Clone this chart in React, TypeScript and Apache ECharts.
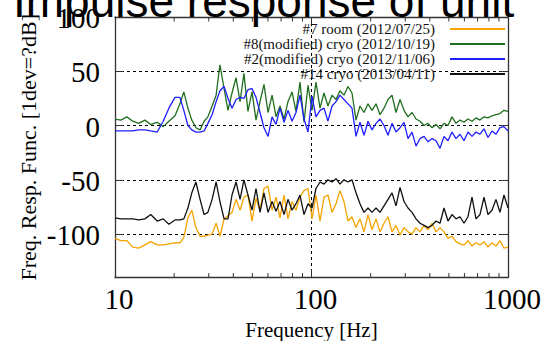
import React, { useEffect, useRef } from "react";
import * as echarts from "echarts";

const TITLE = "Impulse response of unit";
const X_NAME = "Frequency [Hz]";
const Y_NAME = "Freq. Resp. Func. [1dev=?dB]";
const SERIES_NAMES = [
  "#7 room (2012/07/25)",
  "#8(modified) cryo (2012/10/19)",
  "#2(modified) cryo (2012/11/06)",
  "#14 cryo (2013/04/11)",
];
const SERIES_COLORS = ["#f5a300", "#1f6f1f", "#1f1fff", "#111111"];
const X_MAJOR_TICKS = [10, 100, 1000];
const X_MINOR_TICKS = [20, 30, 40, 50, 60, 70, 80, 90, 200, 300, 400, 500, 600, 700, 800, 900];
const Y_TICKS = [100, 50, 0, -50, -100];

const FREQ = [
  10, 10.7, 11.5, 12.3, 13.2, 14.2, 15.2, 16.4, 17.6, 18.8,
  20.2, 21.4, 22.4, 23.5, 24.6, 25.8, 27.1, 28.4, 29.7, 31.2,
  32.7, 34.2, 35.9, 37.6, 39.4, 41.3, 43.3, 45.3, 47.5, 49.8,
  52.2, 54.7, 57.3, 60.1, 63.0, 66.0, 69.1, 72.5, 75.9, 79.6,
  83.4, 87.4, 91.6, 96.0, 100.6, 105.4, 110.5, 115.8, 121.3, 127.2,
  133.3, 139.6, 146.3, 153.4, 160.7, 168.5, 176.5, 185.0, 193.9, 203.2,
  213.0, 223.2, 233.9, 245.1, 256.9, 269.2, 282.2, 295.7, 309.9, 324.8,
  340.3, 356.7, 373.7, 391.7, 410.5, 430.2, 450.8, 472.4, 495.1, 518.8,
  543.7, 569.8, 597.1, 625.7, 655.8, 687.3, 720.2, 754.8, 791.0, 828.9,
  868.6, 910.2, 953.9, 1000,
];

const ROOM7 = [
  -104, -106, -106, -112, -113, -110, -107, -110, -110, -109,
  -108, -108, -103, -85, -78, -94, -102, -102, -101, -100,
  -90, -102, -86, -83, -80, -68, -78, -66, -64, -88,
  -67, -78, -58, -56, -78, -66, -85, -64, -86, -70,
  -78, -66, -60, -58, -86, -64, -88, -66, -64, -80,
  -72, -60, -70, -88, -84, -94, -86, -98, -82, -96,
  -86, -98, -90, -84, -98, -92, -101, -94, -98, -100,
  -94, -98, -92, -96, -90, -98, -94, -98, -104, -102,
  -107, -109, -110, -106, -111, -108, -110, -107, -112, -108,
  -111, -106, -113, -112,
];

const CRYO8 = [
  6, 5, 8, 4, 2, 5, 1, 3, -1, 4,
  9, 20, 31, 16, 5, -2, -4, 4, 8, 18,
  28, 56, 34, 14, 30, 44, 22, 48, 13, 31,
  5, 22, 38, 12, 28, 8, 18, 6, 22, 31,
  13, 40, 3, 37, 14, 40, 16, 30, 18, 28,
  24, 32, 28, 36, 30, 5, 18, 12, 20, 14,
  20, 10, 16, 24, 28, 12, 24, 14, 8, 12,
  6, 4, 0, 2, -2, 1, -3, 2, 0, 8,
  2, 5, 3, 6, 4, 7, 5, 8, 7, 9,
  10, 11, 14, 13,
];

const CRYO2 = [
  -5, -5, -5, -5, -4, -4, -5, -6, 4, 16,
  26, 26, 14, 0, -4, -6, -6, -5, 2, 10,
  22, 32, 36, 25, 16, 24, 26, 25, 33, 34,
  26, 12, -2, -10, 8, 1, 16, 3, 14, 4,
  12, 28, 6, -6, 27, 8, 14, 16, 4, 18,
  22, 28, 24, 20, 16, -10, 3, -9, 4, -4,
  2, 6, 0, -9, 2, -6, -2, 3, -12, -6,
  -19, -12, -10, -15, -12, -14, -21, -10, -14, -6,
  -12, -8, -14, -6, -10, -6, -8, -3, -11, -5,
  -8, -2, -1, -5,
];

const CRYO14 = [
  -85, -86, -86, -86, -87, -86, -82, -88, -86, -91,
  -87, -87, -86, -76, -62, -52, -68, -82, -80, -68,
  -52, -70, -86, -86, -64, -52, -68, -50, -64, -78,
  -58, -80, -62, -80, -70, -79, -70, -82, -68, -78,
  -72, -64, -82, -72, -76, -58, -52, -54, -50, -52,
  -49, -54, -50, -52, -50, -62, -72, -80, -76, -80,
  -76, -80, -74, -68, -62, -74, -57, -70, -76, -80,
  -86, -90, -92, -94, -92, -88, -90, -76, -88, -82,
  -86, -84, -90, -84, -66, -86, -82, -66, -82, -78,
  -68, -80, -64, -76,
];

const SERIES_VALUES = [ROOM7, CRYO8, CRYO2, CRYO14];

export default function App() {
  const ref = useRef<HTMLDivElement>(null);

  useEffect(() => {
    const chart = echarts.init(ref.current!, null, { renderer: "svg" });
    const serif = "'Liberation Serif', 'Times New Roman', serif";
    const border = { show: true, onZero: false, lineStyle: { color: "#333", width: 1.3 } };
    const tick = { show: true, inside: true, length: 8, lineStyle: { color: "#333", width: 1 } };
    const grid = { type: [3, 3], color: "#000", width: 1 };

    const option: any = {
      animation: false,
      backgroundColor: "#fff",
      textStyle: { fontFamily: serif },
      grid: {
        left: 115,
        right: 37,
        top: 17,
        bottom: 63.5,
        containLabel: false,
        outerBoundsMode: "none",
      },
      legend: {
        orient: "vertical",
        right: 35,
        top: 16.5,
        align: "right",
        icon: "rect",
        itemWidth: 55,
        itemHeight: 2,
        itemGap: 0,
        data: SERIES_NAMES,
        textStyle: {
          fontFamily: serif,
          fontSize: 15,
          color: "#111",
          lineHeight: 12.7,
          padding: [0, 10, 0, 0],
        },
      },
      xAxis: [
        {
          type: "log",
          logBase: 10,
          min: 10,
          max: 1000,
          position: "bottom",
          axisLine: border,
          axisTick: tick,
          axisLabel: { show: false },
          splitLine: { show: true, lineStyle: grid },
          name: X_NAME,
          nameLocation: "middle",
          nameGap: 42,
          nameTextStyle: { fontFamily: serif, fontSize: 21, color: "#000" },
        },
        {
          type: "log",
          logBase: 10,
          min: 10,
          max: 1000,
          position: "top",
          axisLine: border,
          axisTick: tick,
          axisLabel: { show: false },
          splitLine: { show: false },
        },
      ],
      yAxis: [
        {
          type: "value",
          min: -140,
          max: 100,
          position: "left",
          axisLine: border,
          axisTick: tick,
          axisLabel: { show: false },
          splitLine: { show: true, lineStyle: grid },
          name: Y_NAME,
          nameLocation: "middle",
          nameGap: 76,
          nameTextStyle: { fontFamily: serif, fontSize: 22, color: "#000" },
        },
        {
          type: "value",
          min: -140,
          max: 100,
          position: "right",
          axisLine: border,
          axisTick: tick,
          axisLabel: { show: false },
          splitLine: { show: false },
        },
      ],
      series: SERIES_NAMES.map((name, i) => ({
        name,
        type: "line",
        xAxisIndex: 0,
        yAxisIndex: 0,
        showSymbol: false,
        symbol: "none",
        color: SERIES_COLORS[i],
        lineStyle: { color: SERIES_COLORS[i], width: 1.3 },
        data: FREQ.map((f, k) => [f, SERIES_VALUES[i][k]]),
        z: 2 + i,
      })),
    };

    chart.setOption(option);

    const yBottom = (chart.convertToPixel({ gridIndex: 0 }, [10, -140]) as number[])[1];
    const yTop = (chart.convertToPixel({ gridIndex: 0 }, [10, 100]) as number[])[1];
    const xLeft = (chart.convertToPixel({ gridIndex: 0 }, [10, 0]) as number[])[0];
    const extra: any[] = [];
    X_MINOR_TICKS.forEach((f, k) => {
      const x = chart.convertToPixel({ xAxisIndex: 0 }, f) as number;
      extra.push({
        type: "line",
        id: "mb" + k,
        silent: true,
        shape: { x1: x, y1: yBottom, x2: x, y2: yBottom - 4.5 },
        style: { stroke: "#333", lineWidth: 1 },
      });
      extra.push({
        type: "line",
        id: "mt" + k,
        silent: true,
        shape: { x1: x, y1: yTop, x2: x, y2: yTop + 4.5 },
        style: { stroke: "#333", lineWidth: 1 },
      });
    });
    X_MAJOR_TICKS.forEach((f, k) => {
      const x = chart.convertToPixel({ xAxisIndex: 0 }, f) as number;
      extra.push({
        type: "text",
        id: "xl" + k,
        silent: true,
        x: x + 4,
        y: yBottom + 21,
        style: {
          text: String(f),
          font: `29px ${serif}`,
          fill: "#000",
          align: "center",
          verticalAlign: "middle",
        },
      });
    });
    Y_TICKS.forEach((v, k) => {
      const y = chart.convertToPixel({ yAxisIndex: 0 }, v) as number;
      extra.push({
        type: "text",
        id: "yl" + k,
        silent: true,
        x: xLeft - 15,
        y: y + 1,
        style: {
          text: String(v),
          font: `29px ${serif}`,
          fill: "#000",
          align: "right",
          verticalAlign: "middle",
        },
      });
    });

    chart.setOption({
      graphic: [
        ...extra,
        {
          type: "text",
          id: "title",
          x: 13,
          y: 1,
          z: 100,
          silent: true,
          style: {
            text: TITLE,
            font: "46px 'Liberation Sans', Arial, sans-serif",
            fill: "#000",
            align: "left",
            verticalAlign: "middle",
          },
        },
      ],
    });

    return () => chart.dispose();
  }, []);

  return (
    <div
      ref={ref}
      style={{ position: "fixed", left: 0, top: 0, width: 545, height: 341, background: "#fff" }}
    />
  );
}
